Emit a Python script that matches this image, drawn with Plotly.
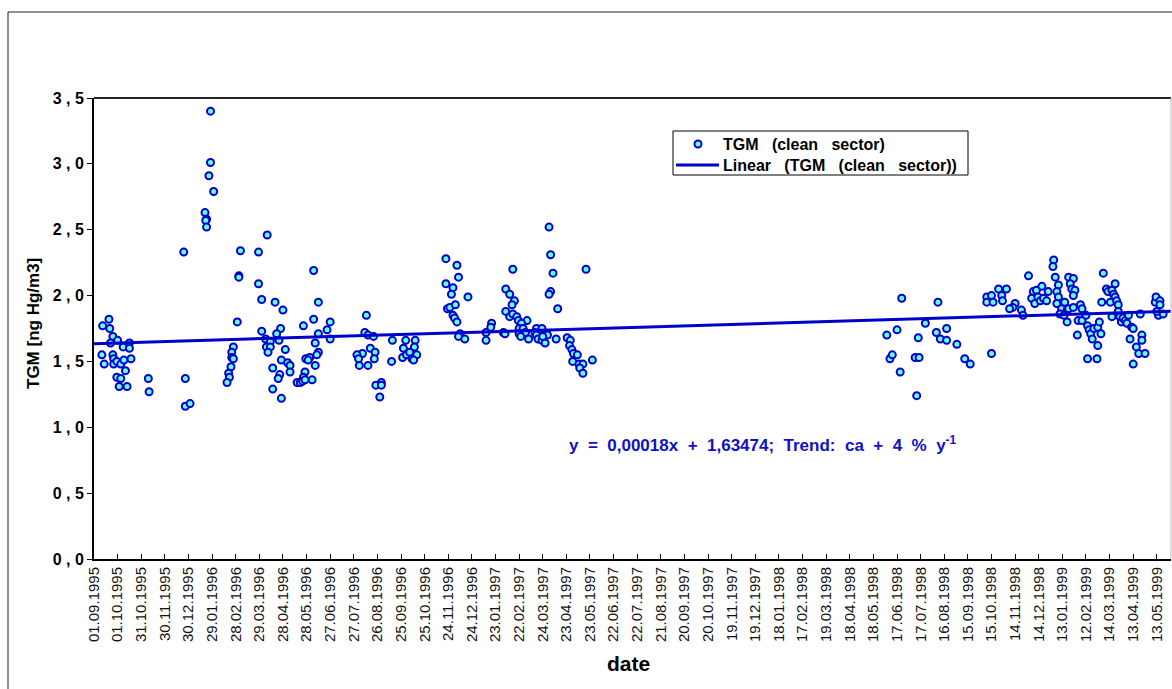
import datetime as dt
import plotly.graph_objects as go

START = dt.date(1995, 9, 1)

# Sampling day (days after 01.09.1995) and TGM concentration [ng Hg/m3], clean sector
sample_day = [
    # autumn 1995
    11, 19, 20, 24, 21, 30, 10, 13, 24, 25, 25, 29, 34, 37, 45, 45, 38, 47, 40, 29, 34, 32, 42, 69, 70,
    # winter 1995/96
    114, 116, 116, 122, 148, 148, 146, 152, 141, 143, 142, 143,
    # Feb - Mar 1996
    182, 177, 175, 175, 177, 174, 171, 172, 169, 186, 184, 184,
    # Mar - May 1996
    209, 220, 209, 213, 230, 240, 213, 237, 232, 218, 224, 235, 219, 224, 221, 243, 238, 246, 249, 249,
    227, 236, 234, 227, 238,
    # May - Jun 1996
    279, 285, 266, 279, 300, 296, 285, 300, 281, 285, 283, 269, 274, 272, 281, 268, 266, 277, 258, 262,
    265, 268,
    # Aug 1996
    346, 344, 348, 355, 341, 351, 357, 356, 348, 358, 365, 365, 363, 334, 336, 337,
    # Sep - Oct 1996
    379, 378, 396, 408, 393, 407, 392, 397, 401, 404, 410, 406,
    # Nov - Dec 1996
    447, 461, 463, 447, 456, 454, 475, 449, 452, 459, 456, 458, 461, 465, 463, 471,
    # Jan 1997
    498, 498, 505, 504, 520, 522,
    # Feb - Mar 1997
    532, 523, 528, 534, 531, 523, 528, 532, 537, 539, 550, 543, 540, 545, 548, 540, 542, 552, 562, 569,
    560, 567, 562, 571, 564, 569, 573, 575, 576, 570, 587,
    578, 580, 583, 580, 578, 589, 625,
    # Apr - May 1997
    601, 605, 604, 607, 609, 614, 608, 616, 621, 617, 621, 633,
    # Jun - Sep 1998
    1007, 1020, 1011, 1014, 1026, 1024, 1045, 1043, 1048, 1047, 1056, 1072, 1070, 1083, 1075, 1083,
    1096, 1106, 1113,
    # Oct - Nov 1998
    1140, 1134, 1134, 1140, 1142, 1149, 1159, 1153, 1154, 1170, 1167, 1163, 1178, 1180,
    # Dec 1998 - Feb 1999
    1187, 1193, 1197, 1204, 1191, 1195, 1199, 1202, 1206, 1212, 1210, 1219, 1218, 1221, 1225, 1223,
    1225, 1223, 1229, 1227, 1233, 1236, 1238, 1244, 1240, 1242, 1246, 1244, 1238, 1244, 1236, 1232,
    1249, 1253, 1255, 1250, 1255, 1260, 1262, 1264, 1266, 1268, 1270, 1275, 1277, 1279, 1275, 1262, 1274,
    # Feb - May 1999
    1280, 1282, 1286, 1288, 1293, 1297, 1295, 1297, 1291, 1299, 1301, 1293, 1301, 1303, 1305, 1307,
    1310, 1314, 1312, 1318, 1320, 1329, 1316, 1331, 1331, 1324, 1327, 1335, 1320, 1348, 1349, 1354,
    1354, 1352, 1358, 1350,
]

tgm = [
    # autumn 1995
    1.77, 1.82, 1.75, 1.69, 1.64, 1.66, 1.55, 1.48, 1.55, 1.52, 1.48, 1.50, 1.48, 1.61, 1.64, 1.60,
    1.51, 1.52, 1.43, 1.38, 1.37, 1.31, 1.31, 1.37, 1.27,
    # winter 1995/96
    2.33, 1.37, 1.16, 1.18, 3.40, 3.01, 2.91, 2.79, 2.63, 2.58, 2.57, 2.52,
    # Feb - Mar 1996
    1.80, 1.61, 1.57, 1.53, 1.52, 1.46, 1.41, 1.38, 1.34, 2.34, 2.15, 2.14,
    # Mar - May 1996
    2.33, 2.46, 2.09, 1.97, 1.95, 1.89, 1.73, 1.75, 1.71, 1.67, 1.65, 1.66, 1.61, 1.61, 1.57, 1.59,
    1.51, 1.49, 1.47, 1.42, 1.45, 1.40, 1.37, 1.29, 1.22,
    # May - Jun 1996
    2.19, 1.95, 1.77, 1.82, 1.80, 1.74, 1.71, 1.67, 1.64, 1.57, 1.55, 1.52, 1.53, 1.51, 1.47, 1.42,
    1.38, 1.36, 1.34, 1.34, 1.35, 1.36,
    # Aug 1996
    1.85, 1.72, 1.70, 1.69, 1.56, 1.60, 1.57, 1.52, 1.47, 1.32, 1.34, 1.32, 1.23, 1.55, 1.52, 1.47,
    # Sep - Oct 1996
    1.66, 1.50, 1.66, 1.66, 1.60, 1.61, 1.53, 1.55, 1.57, 1.52, 1.55, 1.51,
    # Nov - Dec 1996
    2.28, 2.23, 2.14, 2.09, 2.06, 2.01, 1.99, 1.90, 1.91, 1.93, 1.85, 1.83, 1.80, 1.71, 1.69, 1.67,
    # Jan 1997
    1.72, 1.66, 1.79, 1.76, 1.72, 1.71,
    # Feb - Mar 1997
    2.20, 2.05, 2.01, 1.96, 1.93, 1.88, 1.84, 1.86, 1.84, 1.81, 1.81, 1.79, 1.75, 1.75, 1.72, 1.71,
    1.69, 1.67, 1.75, 1.75, 1.72, 1.71, 1.70, 1.70, 1.67, 1.66, 1.64, 1.71, 1.70, 1.69, 1.67,
    2.52, 2.31, 2.17, 2.03, 2.01, 1.90, 2.20,
    # Apr - May 1997
    1.68, 1.66, 1.62, 1.59, 1.56, 1.55, 1.50, 1.48, 1.48, 1.45, 1.41, 1.51,
    # Jun - Sep 1998
    1.70, 1.74, 1.52, 1.55, 1.98, 1.42, 1.24, 1.53, 1.53, 1.68, 1.79, 1.95, 1.72, 1.75, 1.67, 1.66,
    1.63, 1.52, 1.48,
    # Oct - Nov 1998
    1.56, 1.99, 1.95, 2.00, 1.95, 2.05, 2.05, 2.00, 1.96, 1.94, 1.91, 1.90, 1.89, 1.85,
    # Dec 1998 - Feb 1999
    2.15, 2.03, 2.04, 2.07, 1.98, 1.94, 1.99, 1.96, 1.98, 2.03, 1.96, 2.27, 2.22, 2.14, 2.08, 2.03,
    1.99, 1.94, 1.90, 1.86, 1.95, 1.89, 2.14, 2.13, 2.09, 2.05, 2.04, 2.00, 1.90, 1.91, 1.80, 1.85,
    1.70, 1.93, 1.90, 1.81, 1.81, 1.85, 1.77, 1.74, 1.71, 1.67, 1.75, 1.76, 1.80, 1.71, 1.62, 1.52, 1.52,
    # Feb - May 1999
    1.95, 2.17, 2.05, 2.03, 2.04, 2.09, 2.01, 1.99, 1.95, 1.96, 1.93, 1.84, 1.88, 1.84, 1.80, 1.83,
    1.81, 1.85, 1.79, 1.76, 1.75, 1.86, 1.67, 1.70, 1.66, 1.61, 1.56, 1.56, 1.48, 1.95, 1.99, 1.96,
    1.93, 1.85, 1.86, 1.88,
]

# Linear trend: y = slope * (days since start) + intercept
trend_slope = 0.00018
trend_intercept = 1.63474
axis_last_day = 1368

x_tick_labels = [
    "01.09.1995", "01.10.1995", "31.10.1995", "30.11.1995", "30.12.1995", "29.01.1996",
    "28.02.1996", "29.03.1996", "28.04.1996", "28.05.1996", "27.06.1996", "27.07.1996",
    "26.08.1996", "25.09.1996", "25.10.1996", "24.11.1996", "24.12.1996", "23.01.1997",
    "22.02.1997", "24.03.1997", "23.04.1997", "23.05.1997", "22.06.1997", "22.07.1997",
    "21.08.1997", "20.09.1997", "20.10.1997", "19.11.1997", "19.12.1997", "18.01.1998",
    "17.02.1998", "19.03.1998", "18.04.1998", "18.05.1998", "17.06.1998", "17.07.1998",
    "16.08.1998", "15.09.1998", "15.10.1998", "14.11.1998", "14.12.1998", "13.01.1999",
    "12.02.1999", "14.03.1999", "13.04.1999", "13.05.1999",
]
y_tick_values = [0.0, 0.5, 1.0, 1.5, 2.0, 2.5, 3.0, 3.5]
y_tick_labels = ["0 , 0", "0 , 5", "1 , 0", "1 , 5", "2 , 0", "2 , 5", "3 , 0", "3 , 5"]

series_name = "TGM\u00a0\u00a0 (clean\u00a0\u00a0 sector)"
trend_name = "Linear\u00a0\u00a0 (TGM\u00a0\u00a0 (clean\u00a0\u00a0 sector))"
equation_text = ("y\u00a0 =\u00a0 0,00018x\u00a0 +\u00a0 1,63474;\u00a0 Trend:\u00a0 ca\u00a0 +\u00a0 4"
                 "\u00a0 %\u00a0 y<sup>-1</sup>")

FONT = "Liberation Sans, Arial, sans-serif"
BLUE = "#0000CC"
CYAN = "#66FFFF"

x_dates = [START + dt.timedelta(days=d) for d in sample_day]
x_tick_dates = [dt.datetime.strptime(s, "%d.%m.%Y").date() for s in x_tick_labels]
x_end = START + dt.timedelta(days=axis_last_day)

trend_days = [0, axis_last_day]
trend_x = [START + dt.timedelta(days=d) for d in trend_days]
trend_y = [trend_slope * d + trend_intercept for d in trend_days]

fig = go.Figure()
fig.add_trace(go.Scatter(
    x=x_dates, y=tgm, mode="markers", name=series_name, showlegend=False,
    marker=dict(symbol="circle", size=7, color=CYAN, line=dict(color=BLUE, width=2)),
))
fig.add_trace(go.Scatter(
    x=trend_x, y=trend_y, mode="lines", name=trend_name, showlegend=False,
    line=dict(color=BLUE, width=3),
))

W, H = 1172, 689
L, R, T, B = 94, 1, 98, 130
pw, ph = W - L - R, H - T - B


def px_x(p):
    return (p - L) / pw


def px_y(p):
    return (H - B - p) / ph


# key box: frame, marker symbol, line sample
key_shapes = [
    dict(type="rect", xref="paper", yref="paper",
         x0=px_x(673), x1=px_x(968), y0=px_y(131), y1=px_y(175),
         line=dict(color="black", width=1), fillcolor="white", layer="above"),
    dict(type="circle", xref="paper", yref="paper", xsizemode="pixel", ysizemode="pixel",
         xanchor=px_x(698), yanchor=px_y(144), x0=-3.5, x1=3.5, y0=-3.5, y1=3.5,
         fillcolor=CYAN, line=dict(color=BLUE, width=2), layer="above"),
    dict(type="line", xref="paper", yref="paper",
         x0=px_x(676), x1=px_x(719), y0=px_y(165), y1=px_y(165),
         line=dict(color=BLUE, width=3), layer="above"),
]

frame_shapes = [
    # chart frame
    dict(type="line", xref="paper", yref="paper",
         x0=px_x(8), x1=px_x(8), y0=px_y(12), y1=px_y(700),
         line=dict(color="#222222", width=1)),
    dict(type="line", xref="paper", yref="paper",
         x0=px_x(8), x1=px_x(1180), y0=px_y(12), y1=px_y(12),
         line=dict(color="#222222", width=1)),
    # plot-area border top and right
    dict(type="line", xref="paper", yref="paper",
         x0=0, x1=1, y0=1, y1=1, line=dict(color="#222222", width=2)),
    dict(type="line", xref="paper", yref="paper",
         x0=1, x1=1, y0=0, y1=1, line=dict(color="#BBBBBB", width=1)),
]

fig.update_layout(
    width=W, height=H,
    margin=dict(l=L, r=R, t=T, b=B),
    paper_bgcolor="white", plot_bgcolor="white",
    font=dict(family=FONT, color="black"),
    showlegend=False,
    xaxis=dict(
        type="date", range=[START, x_end],
        tickmode="array", tickvals=x_tick_dates, ticktext=x_tick_labels,
        tickangle=-90, tickfont=dict(family=FONT, size=15, color="#111111"),
        ticks="inside", ticklen=5, tickwidth=1, tickcolor="black",
        showline=True, linecolor="black", linewidth=2,
        showgrid=False, zeroline=False,
    ),
    yaxis=dict(
        range=[0, 3.5],
        tickmode="array", tickvals=y_tick_values, ticktext=y_tick_labels,
        tickfont=dict(family=FONT, size=16, color="black", weight="bold"),
        ticks="outside", ticklen=5, tickwidth=1, tickcolor="black",
        showline=True, linecolor="black", linewidth=2,
        showgrid=False, zeroline=False,
    ),
    annotations=[
        dict(text="<b>TGM [ng Hg/m3]</b>", xref="paper", yref="paper",
             x=px_x(33), y=px_y(324), xanchor="center", yanchor="middle",
             textangle=-90, showarrow=False,
             font=dict(family=FONT, size=17, color="black")),
        dict(text="<b>date</b>", xref="paper", yref="paper",
             x=px_x(628), y=px_y(663), xanchor="center", yanchor="middle",
             showarrow=False, font=dict(family=FONT, size=21, color="black")),
        dict(text="<b>" + equation_text + "</b>",
             xref="paper", yref="paper", x=px_x(763), y=px_y(444),
             xanchor="center", yanchor="middle",
             showarrow=False, font=dict(family=FONT, size=17, color="#1010C8")),
        dict(text="<b>" + series_name + "</b>", xref="paper", yref="paper",
             x=px_x(721), y=px_y(144), xanchor="left", yanchor="middle",
             showarrow=False, font=dict(family=FONT, size=16, color="black")),
        dict(text="<b>" + trend_name + "</b>", xref="paper", yref="paper",
             x=px_x(721), y=px_y(165), xanchor="left", yanchor="middle",
             showarrow=False, font=dict(family=FONT, size=16, color="black")),
    ],
    shapes=frame_shapes + key_shapes,
)

fig.write_html("out.html")
